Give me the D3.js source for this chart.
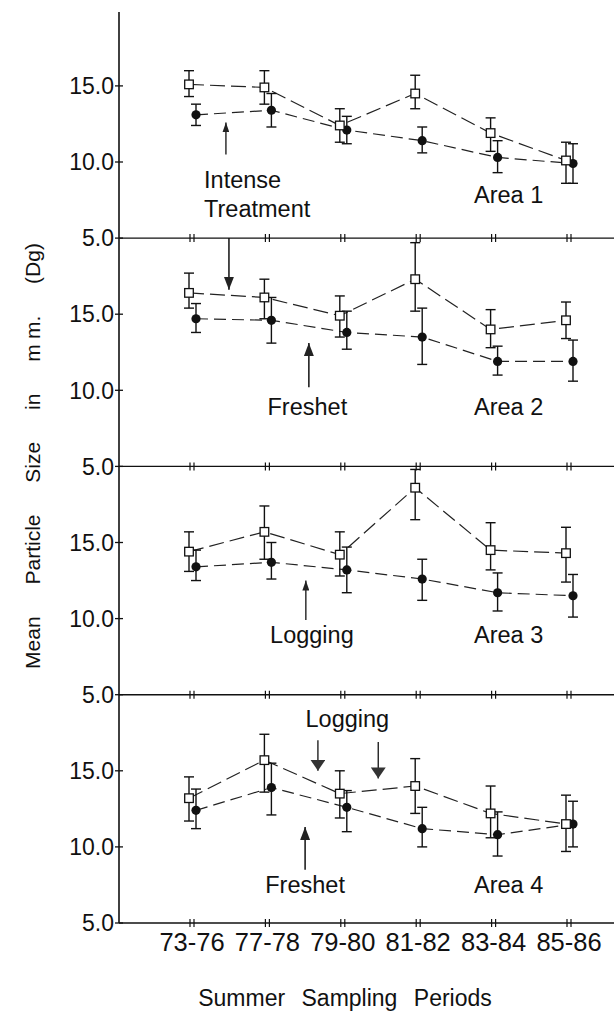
<!DOCTYPE html>
<html>
<head>
<meta charset="utf-8">
<script src="https://cdn.jsdelivr.net/npm/d3@7"></script>
<style>
  body { margin: 0; background: #fff; }
  text { font-family: "Liberation Sans", Arial, sans-serif; fill: #111; }
</style>
</head>
<body>
<div id="chart"></div>
<script>
// sampling periods on the x axis
var periods = ["73-76", "77-78", "79-80", "81-82", "83-84", "85-86"];
var yTicks = [5, 10, 15];

// open squares: mean and error bar ends, per area
var sq1 = [15.1, 14.9, 12.4, 14.5, 11.9, 10.1];
var sq1Lo = [14.3, 13.8, 11.3, 13.5, 10.7, 8.6];
var sq1Hi = [16.0, 16.0, 13.5, 15.7, 12.9, 11.3];
var sq2 = [16.4, 16.1, 14.9, 17.3, 14.0, 14.6];
var sq2Lo = [15.4, 14.7, 13.5, 15.2, 12.8, 13.4];
var sq2Hi = [17.7, 17.3, 16.2, 19.7, 15.3, 15.8];
var sq3 = [14.4, 15.7, 14.2, 18.6, 14.5, 14.3];
var sq3Lo = [13.1, 13.9, 12.8, 16.5, 13.2, 12.4];
var sq3Hi = [15.7, 17.4, 15.7, 19.8, 16.3, 16.0];
var sq4 = [13.2, 15.7, 13.5, 14.0, 12.2, 11.5];
var sq4Lo = [11.7, 13.6, 11.9, 12.2, 10.6, 9.7];
var sq4Hi = [14.6, 17.4, 15.0, 15.8, 14.0, 13.4];

// filled circles
var ci1 = [13.1, 13.4, 12.1, 11.4, 10.3, 9.9];
var ci1Lo = [12.4, 12.3, 11.2, 10.6, 9.3, 8.6];
var ci1Hi = [13.8, 14.5, 13.0, 12.3, 11.4, 11.2];
var ci2 = [14.7, 14.6, 13.8, 13.5, 11.9, 11.9];
var ci2Lo = [13.8, 13.1, 12.7, 11.7, 11.0, 10.6];
var ci2Hi = [15.7, 16.1, 15.2, 15.4, 12.9, 13.3];
var ci3 = [13.4, 13.7, 13.2, 12.6, 11.7, 11.5];
var ci3Lo = [12.5, 12.6, 11.7, 11.2, 10.5, 10.1];
var ci3Hi = [14.5, 15.0, 14.7, 13.9, 13.0, 12.9];
var ci4 = [12.4, 13.9, 12.6, 11.2, 10.8, 11.5];
var ci4Lo = [11.2, 12.1, 11.0, 10.0, 9.4, 10.0];
var ci4Hi = [13.8, 15.5, 13.7, 12.6, 12.3, 13.0];

var areaNames = ["Area 1", "Area 2", "Area 3", "Area 4"];

var areas = [
  {sq: sq1, sqLo: sq1Lo, sqHi: sq1Hi, ci: ci1, ciLo: ci1Lo, ciHi: ci1Hi},
  {sq: sq2, sqLo: sq2Lo, sqHi: sq2Hi, ci: ci2, ciLo: ci2Lo, ciHi: ci2Hi},
  {sq: sq3, sqLo: sq3Lo, sqHi: sq3Hi, ci: ci3, ciLo: ci3Lo, ciHi: ci3Hi},
  {sq: sq4, sqLo: sq4Lo, sqHi: sq4Hi, ci: ci4, ciLo: ci4Lo, ciHi: ci4Hi}
];

var width = 614, height = 1012;
var axisX = 119, rightX = 614;
var plotBottom = 923, panelH = 228.3;

var svg = d3.select("#chart").append("svg")
    .attr("width", width)
    .attr("height", height);

svg.append("rect").attr("width", width).attr("height", height).attr("fill", "#fff");

// x position of each period (index scale)
var x = d3.scaleLinear().domain([0, 5]).range([192, 569]);

// one y scale per panel, stacked from the top
var yScales = areas.map(function(d, i) {
    var bottom = plotBottom - (3 - i) * panelH;
    return d3.scaleLinear().domain([5, 20]).range([bottom, bottom - panelH]);
});

// arrow heads (len along the line, w across it)
var defs = svg.append("defs");
function marker(id, len, w, fill) {
    defs.append("marker")
        .attr("id", id)
        .attr("viewBox", "0 0 " + len + " " + w)
        .attr("refX", len).attr("refY", w / 2)
        .attr("markerWidth", len).attr("markerHeight", w)
        .attr("markerUnits", "userSpaceOnUse")
        .attr("orient", "auto")
      .append("path")
        .attr("d", "M0,0 L" + len + "," + (w / 2) + " L0," + w + " Z")
        .attr("fill", fill);
}
marker("headS", 10, 7, "#222");
marker("headM", 13, 10, "#222");
marker("headL", 11, 15, "#333");

// y axis line
svg.append("line")
    .attr("x1", axisX).attr("x2", axisX)
    .attr("y1", 12).attr("y2", plotBottom)
    .attr("stroke", "#111").attr("stroke-width", 1.6);

var sqDx = -3, ciDx = 4;

areas.forEach(function(a, i) {
    var y = yScales[i];
    var g = svg.append("g");
    var y5 = y(5);

    // panel base line with the double hash marks
    g.append("line")
        .attr("x1", axisX).attr("x2", rightX)
        .attr("y1", y5).attr("y2", y5)
        .attr("stroke", "#111").attr("stroke-width", 1.4);
    periods.forEach(function(p, j) {
        [-2, 2].forEach(function(o) {
            g.append("line")
                .attr("x1", x(j) + o).attr("x2", x(j) + o)
                .attr("y1", y5 - 4).attr("y2", y5 + 4)
                .attr("stroke", "#111").attr("stroke-width", 1.2);
        });
    });

    // y ticks and labels
    yTicks.forEach(function(t) {
        g.append("line")
            .attr("x1", axisX - 4).attr("x2", axisX + 4)
            .attr("y1", y(t)).attr("y2", y(t))
            .attr("stroke", "#111").attr("stroke-width", 1.3);
        g.append("text")
            .attr("x", axisX - 5).attr("y", y(t))
            .attr("dy", "0.36em")
            .attr("text-anchor", "end")
            .attr("font-size", 23)
            .text(d3.format(".1f")(t));
    });

    // dashed lines
    var lineSq = d3.line().x(function(d, j) { return x(j) + sqDx; }).y(function(d) { return y(d); });
    var lineCi = d3.line().x(function(d, j) { return x(j) + ciDx; }).y(function(d) { return y(d); });
    g.append("path").attr("d", lineCi(a.ci))
        .attr("fill", "none").attr("stroke", "#222").attr("stroke-width", 1.2)
        .attr("stroke-dasharray", "12,6");
    g.append("path").attr("d", lineSq(a.sq))
        .attr("fill", "none").attr("stroke", "#222").attr("stroke-width", 1.2)
        .attr("stroke-dasharray", "15,6");

    // error bars
    function errBars(lo, hi, dx) {
        lo.forEach(function(l, j) {
            var cx = x(j) + dx;
            g.append("line").attr("x1", cx).attr("x2", cx)
                .attr("y1", y(l)).attr("y2", y(hi[j]))
                .attr("stroke", "#111").attr("stroke-width", 1.4);
            [l, hi[j]].forEach(function(v) {
                g.append("line").attr("x1", cx - 5).attr("x2", cx + 5)
                    .attr("y1", y(v)).attr("y2", y(v))
                    .attr("stroke", "#111").attr("stroke-width", 1.4);
            });
        });
    }
    errBars(a.ciLo, a.ciHi, ciDx);
    errBars(a.sqLo, a.sqHi, sqDx);

    // markers
    a.ci.forEach(function(v, j) {
        g.append("circle")
            .attr("cx", x(j) + ciDx).attr("cy", y(v)).attr("r", 4.6)
            .attr("fill", "#111");
    });
    a.sq.forEach(function(v, j) {
        g.append("rect")
            .attr("x", x(j) + sqDx - 4.3).attr("y", y(v) - 4.3)
            .attr("width", 8.6).attr("height", 8.6)
            .attr("fill", "#fff").attr("stroke", "#111").attr("stroke-width", 1.3);
    });

    // area label
    g.append("text")
        .attr("x", x(3.74)).attr("y", y(i == 0 ? 7.3 : i == 3 ? 6.97 : 8.4))
        .attr("font-size", 23.5)
        .text(areaNames[i]);
});

// annotations: arrows drawn in data units of each panel
function arrow(panel, xi, from, to, head, sw) {
    var y = yScales[panel];
    svg.append("line")
        .attr("x1", x(xi)).attr("x2", x(xi))
        .attr("y1", y(from)).attr("y2", y(to))
        .attr("stroke", "#111").attr("stroke-width", sw || 1.5)
        .attr("marker-end", "url(#" + head + ")");
}
function note(panel, xi, v, label, anchor) {
    svg.append("text")
        .attr("x", x(xi)).attr("y", yScales[panel](v))
        .attr("text-anchor", anchor)
        .attr("font-size", 23.5)
        .text(label);
}

// Area 1
arrow(0, 0.45, 10.5, 12.6, "headS", 1.3);
note(0, 0.16, 8.29, "Intense", "start");
note(0, 0.16, 6.38, "Treatment", "start");
// Area 2
arrow(1, 0.49, 20, 16.6, "headM");
arrow(1, 1.55, 10.2, 13.1, "headM");
note(1, 1.53, 8.35, "Freshet", "middle");
// Area 3
arrow(2, 1.51, 9.9, 12.5, "headS", 1.3);
note(2, 1.59, 8.4, "Logging", "middle");
// Area 4
note(3, 2.06, 17.88, "Logging", "middle");
arrow(3, 1.67, 17.0, 15.0, "headL", 1.3);
arrow(3, 2.47, 16.9, 14.5, "headL", 1.3);
arrow(3, 1.50, 8.5, 11.3, "headM");
note(3, 1.50, 6.97, "Freshet", "middle");

// x tick labels
periods.forEach(function(p, j) {
    svg.append("text")
        .attr("x", x(j)).attr("y", 951)
        .attr("text-anchor", "middle")
        .attr("font-size", 25.5)
        .text(p);
});

// axis titles
svg.append("text")
    .attr("x", 345).attr("y", 1006)
    .attr("text-anchor", "middle")
    .attr("font-size", 23)
    .attr("word-spacing", 10)
    .text("Summer Sampling Periods");

svg.append("text")
    .attr("transform", "translate(40,456) rotate(-90)")
    .attr("text-anchor", "middle")
    .attr("font-size", 21)
    .attr("word-spacing", 26)
    .text("Mean Particle Size in m\u2005m. (Dg)");
</script>
</body>
</html>
